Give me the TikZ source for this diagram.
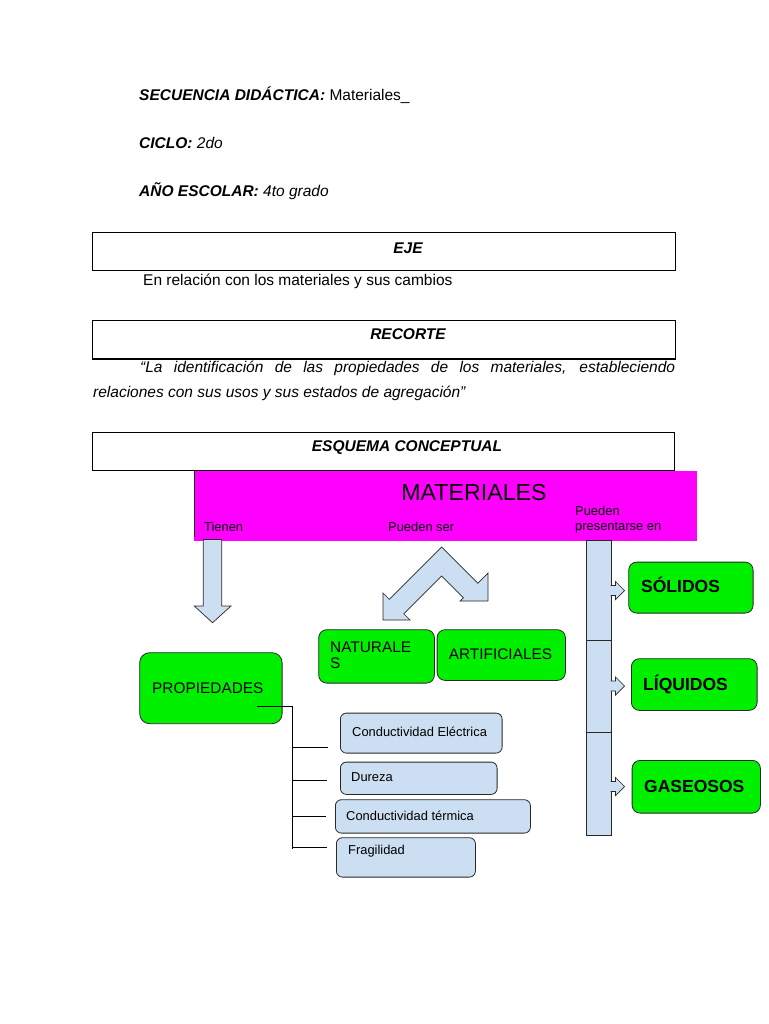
\documentclass[tikz,border=0pt]{standalone}
\usepackage{fontspec}
\setmainfont{Liberation Sans}
\definecolor{mag}{RGB}{255,0,255}
\definecolor{grn}{RGB}{0,240,0}
\definecolor{lblue}{RGB}{204,222,242}
\definecolor{edge}{RGB}{40,40,40}
\newcommand{\ftop}{\fontsize{15.5}{18}\selectfont}
\newcommand{\fsm}{\fontsize{12.9}{15}\selectfont}
\newcommand{\fmid}{\fontsize{15.4}{18}\selectfont}
\newcommand{\fbig}{\fontsize{23.2}{27}\selectfont}
\newcommand{\fstate}{\fontsize{17.5}{21}\selectfont\bfseries}
\begin{document}
\begin{tikzpicture}[x=1pt,y=-1pt,
  hbox/.style={draw=black, line width=0.9pt, fill=white, anchor=north west, inner sep=0pt},
  gbox/.style={draw=edge, fill=grn, rounded corners=8pt, line width=0.8pt, anchor=north west, inner sep=0pt},
  pbox/.style={draw=edge, fill=lblue, rounded corners=6pt, line width=0.8pt, anchor=north west, inner sep=0pt},
  barrow/.style={draw=edge, fill=lblue, line width=0.7pt, line join=miter},
  txt/.style={inner sep=0pt, anchor=base west},
  ctxt/.style={inner sep=0pt, anchor=base},
  conn/.style={draw=black, line width=0.8pt},
]
\useasboundingbox[fill=white] (0,0) rectangle (768,1024);

% header lines
\node[txt] (t1) at (139,101) {\ftop\bfseries\itshape SECUENCIA DIDÁCTICA:\normalfont\ftop\ Materiales\_};
\node[txt] (t2) at (139,149) {\ftop\bfseries\itshape CICLO:\normalfont\ftop\itshape\ 2do};
\node[txt] (t3) at (139,197) {\ftop\bfseries\itshape AÑO ESCOLAR:\normalfont\ftop\itshape\ 4to grado};

% EJE
\node[hbox, minimum width=583pt, minimum height=38pt] (eje) at (92,232) {};
\node[ctxt] (ejet) at (408,253) {\ftop\bfseries\itshape EJE};
\node[txt] (ejetx) at (143,285) {\ftop En relación con los materiales y sus cambios};

% RECORTE
\node[hbox, minimum width=583pt, minimum height=38pt] (rec) at (92,320) {};
\draw[line width=1.8pt] (rec.south west) -- (rec.south east);
\node[ctxt] (rect) at (408,339) {\ftop\bfseries\itshape RECORTE};
\node[txt] (q1) at (140,372) {\ftop\itshape\makebox[535pt][s]{“La identificación de las propiedades de los materiales, estableciendo}};
\node[txt] (q2) at (93,397) {\ftop\itshape relaciones con sus usos y sus estados de agregación”};

% ESQUEMA
\node[hbox, minimum width=582pt, minimum height=38pt] (esq) at (92,432) {};
\node[ctxt] (esqt) at (407,451) {\ftop\bfseries\itshape ESQUEMA CONCEPTUAL};

% MATERIALES header
\node[fill=mag, anchor=north west, minimum width=503pt, minimum height=70pt, inner sep=0pt] (mat) at (194,471) {};
\draw[edge, line width=0.8pt] (194.4,471) -- (194.4,537);
\node[ctxt] (matt) at (474,500) {\fbig MATERIALES};
\node[txt] (tien) at (204,531.5) {\fsm Tienen};
\node[txt] (pser) at (388,531.5) {\fsm Pueden ser};
\node[txt] (pp1) at (575,515.5) {\fsm Pueden};
\node[txt] (pp2) at (575,530.5) {\fsm presentarse en};

% down arrow (Tienen)
\draw[barrow] (203.3,539.5) -- (221.7,539.5) -- (221.7,606) -- (231,606) -- (212.5,622.7)
  -- (194.3,606) -- (203.3,606) -- cycle;

% double bent arrow (Pueden ser)
\draw[barrow] (383,620) -- (383,593) -- (389.35,599.35) -- (441.7,547) -- (477.85,583.15)
  -- (488,573) -- (488,601) -- (460,601) -- (463.35,597.65) -- (441.7,576)
  -- (403.85,613.85) -- (410,620) -- cycle;

% NATURALES / ARTIFICIALES
\node[gbox, minimum width=115.7pt, minimum height=53.4pt] (nat) at (318.3,629.3) {};
\node[txt] (natt1) at (330,652) {\fmid NATURALE};
\node[txt] (natt2) at (330,668) {\fmid S};
\node[gbox, minimum width=128.3pt, minimum height=50.7pt] (art) at (436.7,629.3) {};
\node[ctxt] (artt) at (500.5,659) {\fmid ARTIFICIALES};

% PROPIEDADES
\node[gbox, minimum width=142.4pt, minimum height=71pt, rounded corners=10pt] (prop) at (139.3,652.3) {};
\node[txt] (propt) at (152,693) {\fmid PROPIEDADES};

% property boxes
\node[pbox, minimum width=161.7pt, minimum height=40pt] (p1) at (340,712.7) {};
\node[txt] (p1t) at (352,736.5) {\fsm Conductividad Eléctrica};
\node[pbox, minimum width=156.7pt, minimum height=32.3pt] (p2) at (340,761.7) {};
\node[txt] (p2t) at (351,781.5) {\fsm Dureza};
\node[pbox, minimum width=195pt, minimum height=33.4pt] (p3) at (335,799.3) {};
\node[txt] (p3t) at (346,820.5) {\fsm Conductividad térmica};
\node[pbox, minimum width=139pt, minimum height=39.4pt] (p4) at (336,837.3) {};
\node[txt] (p4t) at (348,854.5) {\fsm Fragilidad};

% connectors from PROPIEDADES
\coordinate (pj) at (257,706.5);
\coordinate (tt) at (292,706.5);
\coordinate (tb) at (292,848.5);
\coordinate (b1) at (328,747.3);
\coordinate (b2) at (327,780);
\coordinate (b3) at (326,816);
\coordinate (b4) at (327,847);
\draw[conn] (pj) -- (tt) -- (tb);
\draw[conn] (tt |- b1) -- (b1);
\draw[conn] (tt |- b2) -- (b2);
\draw[conn] (tt |- b3) -- (b3);
\draw[conn] (tt |- b4) -- (b4);

% right column
\node[barrow, anchor=north west, minimum width=25pt, minimum height=100.5pt, inner sep=0pt] (c1) at (585.5,539.5) {};
\node[barrow, anchor=north west, minimum width=25pt, minimum height=92pt, inner sep=0pt] (c2) at (585.5,640) {};
\node[barrow, anchor=north west, minimum width=25pt, minimum height=103pt, inner sep=0pt] (c3) at (585.5,732) {};
\foreach \yy in {590.5,686,786.5}{
  \draw[barrow] (610.5,\yy-5) -- (615.5,\yy-5) -- (615.5,\yy-9) -- (624.5,\yy) -- (615.5,\yy+9)
    -- (615.5,\yy+5) -- (610.5,\yy+5);
}

% state boxes
\node[gbox, minimum width=124.4pt, minimum height=51pt] (sol) at (628.3,561.7) {};
\node[txt] (solt) at (641,592.5) {\fstate SÓLIDOS};
\node[gbox, minimum width=125.7pt, minimum height=51.7pt] (liq) at (631,658.3) {};
\node[txt] (liqt) at (643,690.5) {\fstate LÍQUIDOS};
\node[gbox, minimum width=128.3pt, minimum height=52.7pt] (gas) at (631.7,760) {};
\node[txt] (gast) at (644,792.5) {\fstate GASEOSOS};
\end{tikzpicture}
\end{document}
